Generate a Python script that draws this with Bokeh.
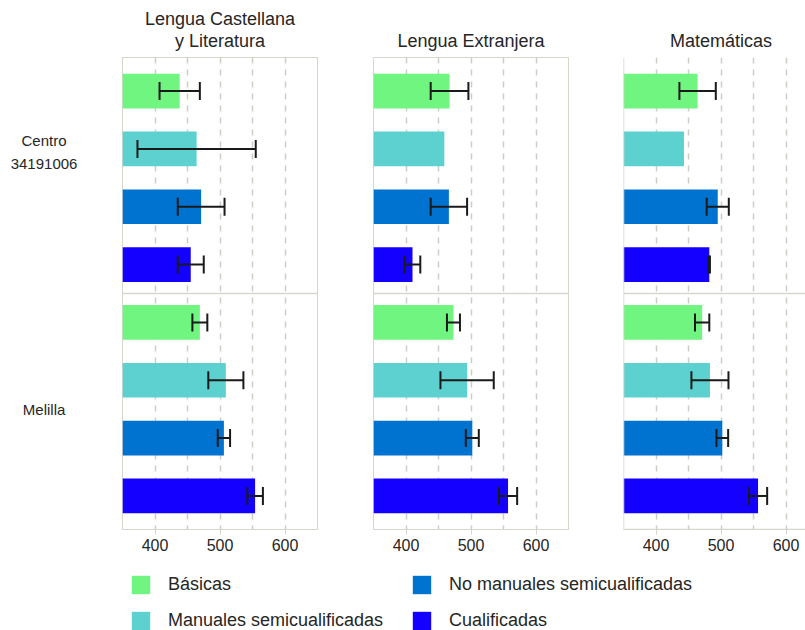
import numpy as np
from bokeh.plotting import figure
from bokeh.models import (Range1d, FixedTicker, Whisker, TeeHead, ColumnDataSource,
                          Span, Legend, LegendItem, Spacer)
from bokeh.layouts import row, column
from bokeh.embed import file_html
from bokeh.resources import INLINE
from bokeh.core.properties import value

# ---------------- data ----------------
subjects = ["Lengua Castellana\ny Literatura", "Lengua Extranjera", "Matemáticas"]
groups = ["Centro\n34191006", "Melilla"]
categories = ["Básicas", "Manuales semicualificadas",
              "No manuales semicualificadas", "Cualificadas"]
colors = ["#70F580", "#5CD1CF", "#0073D0", "#1400FF"]

# values: Centro (4 categories) then Melilla (4 categories)
lcl_mean = [438, 464, 471, 455, 469, 509, 506, 554]
lcl_err = [31, 91, 36, 20, 11.5, 27, 9.5, 12]
le_mean = [467, 459, 466, 410, 473, 494, 502, 557]
le_err = [29, None, 28, 12, 10, 41, 10, 14]
mat_mean = [464, 443, 495, 482, 471, 483, 502, 557]
mat_err = [28, None, 17, 1, 11, 28.5, 9, 14]

x_ticks = [400, 500, 600]
grid_ticks = [400, 450, 500, 550, 600]

means = [lcl_mean, le_mean, mat_mean]
errors = [lcl_err, le_err, mat_err]

# ---------------- style ----------------
FONT = "Liberation Sans"
FRAME = "#d6d6cc"
GRID = "#cdcdc3"
TEXT = "#262626"
X_START, X_END, X_END_LAST = 350, 650, 630
HEAD_H = 56
TOP, FRAME_H, BOTTOM = 1, 472, 31
H = TOP + FRAME_H + BOTTOM
widths = [251, 250, 182]
label_w = 122
LEG_H = 70

n_cat = len(categories)
ypos = [g * n_cat + c + 1 for g in range(len(groups)) for c in range(n_cat)]
bar_colors = [colors[c] for g in range(len(groups)) for c in range(n_cat)]
y_range = Range1d(len(ypos) + 0.58, 0.42)

# ---------------- row labels ----------------
lab = figure(width=label_w, height=H, x_range=Range1d(0, 1), y_range=y_range,
             toolbar_location=None, output_backend="svg",
             min_border_left=0, min_border_right=0, min_border_top=TOP,
             min_border_bottom=BOTTOM, outline_line_color=None,
             x_axis_location=None, y_axis_location=None)
lab.grid.visible = False
group_centers = [float(np.mean(ypos[g * n_cat:(g + 1) * n_cat])) for g in range(len(groups))]
label_offsets = [-26, 0]
lab.text(x=[0.357] * len(groups), y=group_centers, text=groups, y_offset=label_offsets,
         text_align="center", text_baseline="middle", text_font=value(FONT),
         text_font_size="15px", text_color=TEXT, text_line_height=1.33)

# ---------------- panels ----------------
panels = []
heads = []
for i, (subject, m, e) in enumerate(zip(subjects, means, errors)):
    last = i == len(subjects) - 1
    x_end = X_END_LAST if last else X_END
    frame_w = round((x_end - X_START) * 0.65)
    x_range = Range1d(X_START, x_end)
    p = figure(width=widths[i], height=H, x_range=x_range, y_range=y_range,
               toolbar_location=None, output_backend="svg",
               min_border_left=0, min_border_right=widths[i] - frame_w,
               min_border_top=TOP, min_border_bottom=BOTTOM,
               y_axis_location=None,
               outline_line_color=None if last else FRAME, outline_line_width=1,
               background_fill_color="white", border_fill_color="white")
    src = ColumnDataSource(dict(y=ypos, right=m, color=bar_colors))
    p.hbar(y="y", left=X_START, right="right", height=0.6, fill_color="color",
           line_color=None, source=src)
    ey = [y for y, v in zip(ypos, e) if v is not None]
    em = [mm for mm, v in zip(m, e) if v is not None]
    ev = [v for v in e if v is not None]
    wsrc = ColumnDataSource(dict(base=ey, lower=[a - b for a, b in zip(em, ev)],
                                 upper=[a + b for a, b in zip(em, ev)]))
    w = Whisker(source=wsrc, base="base", lower="lower", upper="upper", dimension="width",
                line_color="#1a1a1a", line_width=2, level="overlay",
                upper_head=TeeHead(size=18, line_width=2, line_color="#1a1a1a"),
                lower_head=TeeHead(size=18, line_width=2, line_color="#1a1a1a"))
    p.add_layout(w)
    p.add_layout(Span(location=n_cat + 0.5, dimension="width", line_color=FRAME, line_width=1.5))
    if last:
        p.add_layout(Span(location=X_START, dimension="height", line_color=FRAME, line_width=1.5))
        p.add_layout(Span(location=y_range.start, dimension="width", line_color=FRAME, line_width=1.5))
    p.ygrid.visible = False
    p.xgrid.ticker = FixedTicker(ticks=grid_ticks)
    p.xgrid.grid_line_color = GRID
    p.xgrid.grid_line_dash = "6 6"
    p.xgrid.grid_line_width = 1.5
    ax = p.xaxis[0]
    ax.ticker = FixedTicker(ticks=x_ticks)
    ax.axis_line_color = FRAME
    ax.major_tick_line_color = FRAME
    ax.major_tick_out = 5
    ax.major_tick_in = 0
    ax.minor_tick_line_color = None
    ax.major_label_text_font = FONT
    ax.major_label_text_font_size = "16px"
    ax.major_label_text_color = TEXT
    ax.major_label_standoff = 4
    panels.append(p)

    # column header
    h = figure(width=widths[i], height=HEAD_H, x_range=x_range, y_range=Range1d(0, 1),
               toolbar_location=None, output_backend="svg",
               min_border_left=0, min_border_right=widths[i] - frame_w,
               min_border_top=0, min_border_bottom=0, outline_line_color=None,
               x_axis_location=None, y_axis_location=None)
    h.grid.visible = False
    h.text(x=[(X_START + X_END) / 2], y=[0.1], text=[subject], text_align="center",
           text_baseline="bottom", text_font=value(FONT), text_font_size="18px",
           text_color=TEXT, text_line_height=1.11)
    heads.append(h)

# ---------------- legend ----------------
leg = figure(width=sum(widths) + label_w, height=LEG_H, toolbar_location=None,
             output_backend="svg", x_axis_location=None, y_axis_location=None,
             outline_line_color=None, min_border=0,
             x_range=Range1d(0, 1), y_range=Range1d(0, 1))
leg.grid.visible = False
items = []
for cat, col in zip(categories, colors):
    r = leg.hbar(y=[0.5], left=[0], right=[0], height=0, fill_color=col, line_color=None)
    items.append(LegendItem(label=cat, renderers=[r]))
legend = Legend(items=items, location=(129, -2), orientation="vertical", nrows=2,
                glyph_width=23, glyph_height=23, label_standoff=16, label_width=229,
                spacing=13, padding=0, margin=0, border_line_color=None,
                background_fill_alpha=0, label_text_font=FONT,
                label_text_font_size="18px", label_text_color=TEXT)
leg.add_layout(legend, "center")

layout = column(row(Spacer(width=label_w, height=HEAD_H), *heads),
                row(lab, *panels), leg)
open("out.html", "w").write(file_html(layout, INLINE))
